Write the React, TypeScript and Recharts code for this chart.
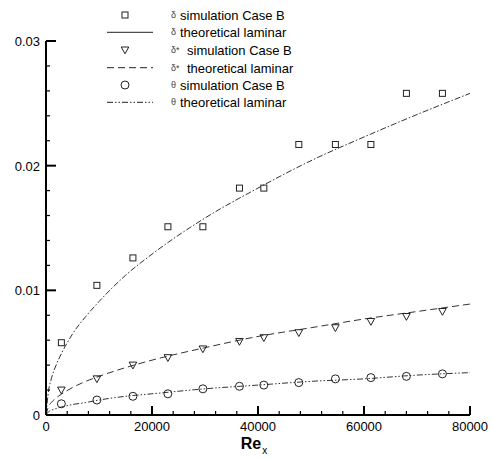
import React from 'react';
import { ComposedChart, Line, Scatter, XAxis, YAxis } from 'recharts';

// Simulation (Case B) sample locations and values
const simRe = [2900, 9600, 16400, 23000, 29600, 36500, 41100, 47700, 54600, 61300, 68000, 74800];
const deltaSim = [0.0058, 0.0104, 0.0126, 0.0151, 0.0151, 0.0182, 0.0182, 0.0217, 0.0217, 0.0217, 0.0258, 0.0258];
const deltaStarSim = [0.002, 0.0029, 0.004, 0.0046, 0.0053, 0.0059, 0.0062, 0.0066, 0.007, 0.0075, 0.0079, 0.0083];
const thetaSim = [0.0009, 0.0012, 0.0015, 0.0017, 0.0021, 0.0023, 0.0024, 0.0026, 0.0029, 0.003, 0.0031, 0.0033];

// Theoretical laminar curves
const theoryRe = [0, 500, 1000, 2000, 3000, 5000, 7500, 10000, 15000, 20000, 30000, 40000, 50000, 60000, 70000, 80000];
const deltaTheory = [0, 0.002, 0.0029, 0.0041, 0.005, 0.0065, 0.0079, 0.0091, 0.0112, 0.0129, 0.0158, 0.0182, 0.0204, 0.0223, 0.0241, 0.0258];
const deltaStarTheory = [0, 0.0007, 0.001, 0.0014, 0.0017, 0.0022, 0.0027, 0.0031, 0.0038, 0.0044, 0.0054, 0.0063, 0.007, 0.0077, 0.0083, 0.0089];
const thetaTheory = [0, 0.00027, 0.00038, 0.00053, 0.00065, 0.00084, 0.001, 0.0012, 0.0015, 0.0017, 0.0021, 0.0024, 0.0027, 0.0029, 0.0032, 0.0034];

// Ticks
const xTicks = [0, 4000, 8000, 12000, 16000, 20000, 24000, 28000, 32000, 36000, 40000, 44000, 48000, 52000, 56000, 60000, 64000, 68000, 72000, 76000, 80000];
const xMajor = [0, 20000, 40000, 60000, 80000];
const xLabels = ['0', '20000', '40000', '60000', '80000'];
const yTicks = [0, 0.002, 0.004, 0.006, 0.008, 0.01, 0.012, 0.014, 0.016, 0.018, 0.02, 0.022, 0.024, 0.026, 0.028, 0.03];
const yMajor = [0, 0.01, 0.02, 0.03];
const yLabels = ['0', '0.01', '0.02', '0.03'];

const legendLabels = [
  ['δ', 'simulation Case B'],
  ['δ', 'theoretical laminar'],
  ['δ*', 'simulation Case B'],
  ['δ*', 'theoretical laminar'],
  ['θ', 'simulation Case B'],
  ['θ', 'theoretical laminar'],
];

const pts = (xs: number[], ys: number[]) => xs.map((x, i) => ({ x, y: ys[i] }));

const FONT = '"Liberation Sans", Arial, Helvetica, sans-serif';
const INK = '#222';
const DASH_D = '6 2 1.5 2';
const DASH_DS = '7 4';
const DASH_T = '6 2 1.5 2 1.5 2';

const SquareShape = (p: any) => (
  <rect x={p.cx - 3} y={p.cy - 3} width={6} height={6} fill="none" stroke={INK} strokeWidth={1} />
);
const TriShape = (p: any) => (
  <path d={`M${p.cx - 3.8},${p.cy - 3} L${p.cx + 3.8},${p.cy - 3} L${p.cx},${p.cy + 3.8} Z`} fill="none" stroke={INK} strokeWidth={1} />
);
const CircShape = (p: any) => (
  <circle cx={p.cx} cy={p.cy} r={4} fill="none" stroke={INK} strokeWidth={1} />
);

const XTick = (props: any) => {
  const { x, y, payload } = props;
  const idx = xMajor.indexOf(payload.value);
  const major = idx >= 0;
  return (
    <g>
      <line x1={x} x2={x} y1={y} y2={y - (major ? 9 : 4)} stroke="#000" strokeWidth={major ? 2 : 1.2} />
      {major && (
        <text x={x} y={y + 16} textAnchor="middle" fontSize={13} fontFamily={FONT} fill="#000">
          {xLabels[idx]}
        </text>
      )}
    </g>
  );
};

const YTick = (props: any) => {
  const { x, y, payload } = props;
  const idx = yMajor.findIndex((v) => Math.abs(v - payload.value) < 1e-9);
  const major = idx >= 0;
  return (
    <g>
      <line x1={x} x2={x + (major ? 10 : 4)} y1={y} y2={y} stroke="#000" strokeWidth={major ? 2 : 1.2} />
      {major && (
        <text x={x - 6} y={y + 5} textAnchor="end" fontSize={13} fontFamily={FONT} fill="#000">
          {yLabels[idx]}
        </text>
      )}
    </g>
  );
};

const XTitle = (props: any) => {
  const vb = props.viewBox || { x: 46, y: 415, width: 424 };
  const cx = vb.x + vb.width / 2;
  return (
    <text x={cx - 4} y={vb.y + 34} textAnchor="middle" fontFamily={FONT} fill="#000" fontWeight="bold" fontSize={16}>
      Re
      <tspan fontSize={10} fontWeight="normal" dx={1} dy={5}>x</tspan>
    </text>
  );
};

const LegendBox = () => {
  const rows = [15, 32.3, 50, 67.7, 85, 102.3];
  const textX = [80, 80, 87, 87, 80, 80];
  return (
    <svg width={280} height={112} style={{ display: 'block' }}>
      <SquareShape cx={25} cy={rows[0]} />
      <line x1={7} x2={53} y1={rows[1]} y2={rows[1]} stroke={INK} strokeWidth={1} />
      <TriShape cx={25} cy={rows[2]} />
      <line x1={7} x2={53} y1={rows[3]} y2={rows[3]} stroke={INK} strokeWidth={1} strokeDasharray={DASH_DS} />
      <CircShape cx={25} cy={rows[4]} />
      <line x1={7} x2={53} y1={rows[5]} y2={rows[5]} stroke={INK} strokeWidth={1} strokeDasharray={DASH_T} />
      {legendLabels.map((l, i) => (
        <g key={i}>
          <text x={71} y={rows[i] + 3} fontSize={9} fontFamily={FONT} fill="#444">{l[0]}</text>
          <text x={textX[i]} y={rows[i] + 5} fontSize={13} fontFamily={FONT} fill="#000">{l[1]}</text>
        </g>
      ))}
    </svg>
  );
};

export default function App() {
  return (
    <div style={{ position: 'absolute', left: 0, top: 0, width: 494, height: 458, background: '#fff' }}>
      <ComposedChart width={494} height={458} margin={{ top: 41, right: 24, bottom: 0, left: 0 }}>
        <XAxis
          type="number"
          dataKey="x"
          domain={[0, 80000]}
          ticks={xTicks}
          interval={0}
          tickSize={0}
          tickMargin={0}
          tick={<XTick />}
          tickLine={false}
          axisLine={{ stroke: '#000', strokeWidth: 2 }}
          height={43}
          allowDataOverflow
          label={<XTitle />}
        />
        <YAxis
          type="number"
          dataKey="y"
          domain={[0, 0.03]}
          ticks={yTicks}
          interval={0}
          tickSize={0}
          tickMargin={0}
          tick={<YTick />}
          tickLine={false}
          axisLine={{ stroke: '#000', strokeWidth: 2 }}
          width={46}
          allowDataOverflow
        />
        <Line data={pts(theoryRe, deltaTheory)} dataKey="y" type="monotone" stroke="#333" strokeWidth={1} strokeDasharray={DASH_D} dot={false} isAnimationActive={false} />
        <Line data={pts(theoryRe, deltaStarTheory)} dataKey="y" type="monotone" stroke="#333" strokeWidth={1} strokeDasharray={DASH_DS} dot={false} isAnimationActive={false} />
        <Line data={pts(theoryRe, thetaTheory)} dataKey="y" type="monotone" stroke="#333" strokeWidth={1} strokeDasharray={DASH_T} dot={false} isAnimationActive={false} />
        <Scatter data={pts(simRe, deltaSim)} dataKey="y" shape={SquareShape} isAnimationActive={false} />
        <Scatter data={pts(simRe, deltaStarSim)} dataKey="y" shape={TriShape} isAnimationActive={false} />
        <Scatter data={pts(simRe, thetaSim)} dataKey="y" shape={CircShape} isAnimationActive={false} />
      </ComposedChart>
      <div style={{ position: 'absolute', left: 100, top: 0 }}>
        <LegendBox />
      </div>
    </div>
  );
}
